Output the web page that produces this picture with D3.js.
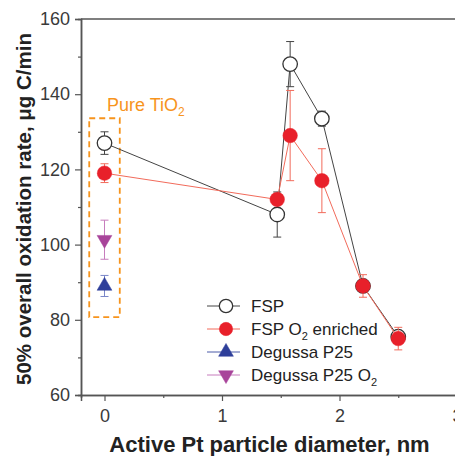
<!DOCTYPE html>
<html>
<head>
<meta charset="utf-8">
<script src="https://cdn.jsdelivr.net/npm/d3@7"></script>
<style>
  body { margin: 0; background: #fff; }
  svg { font-family: "Liberation Sans", Arial, sans-serif; }
</style>
</head>
<body>
<svg width="455" height="456"></svg>
<script>
// data
var fspX   = [0, 1.47, 1.58, 1.85, 2.2, 2.5];
var fspY   = [127, 108, 148, 133.5, 89, 75.5];
var fspErr = [3, 6, 6, 2, 1.5, 1.5];

var o2X   = [0, 1.47, 1.58, 1.85, 2.2, 2.5];
var o2Y   = [119, 112, 129, 117, 89, 75];
var o2Err = [2.5, 1.5, 12, 8.5, 3, 3];

var p25X = [0], p25Y = [89], p25Err = [2.8];
var p25o2X = [0], p25o2Y = [101.3], p25o2Err = [5.2];

var xTicks = [0, 1, 2, 3];
var yTicks = [60, 80, 100, 120, 140, 160];

var svg = d3.select('svg');
var margin = {top: 19, left: 81, bottom: 61};
var height = 456;

var xScale = d3.scaleLinear().domain([-0.2, 3.2]).range([81, 81 + 3.4 * 117.5]);
var yScale = d3.scaleLinear().domain([60, 160]).range([height - margin.bottom, margin.top]);

var axisCol = '#555';

// top frame
svg.append('line')
  .attr('x1', xScale(-0.2)).attr('x2', xScale(3.2))
  .attr('y1', yScale(160)).attr('y2', yScale(160))
  .attr('stroke', axisCol).attr('stroke-width', 1.5);

// axes
var xAxis = d3.axisBottom(xScale).tickValues(xTicks).tickFormat(d3.format('d')).tickSize(6).tickPadding(8);
var xMinor = d3.axisBottom(xScale).tickValues([0.5, 1.5, 2.5]).tickFormat('').tickSize(3);
var yAxis = d3.axisLeft(yScale).tickValues(yTicks).tickSize(6).tickPadding(5);
var yMinor = d3.axisLeft(yScale).tickValues([70, 90, 110, 130, 150]).tickFormat('').tickSize(3);

function styleAxis(g) {
  g.select('.domain').attr('stroke', axisCol).attr('stroke-width', 1.5);
  g.selectAll('.tick line').attr('stroke', axisCol).attr('stroke-width', 1.2);
  g.selectAll('.tick text').attr('fill', '#3a3a3a').style('font-size', '18px')
    .style('font-family', '"Liberation Sans", Arial, sans-serif');
}

svg.append('g').attr('transform', 'translate(0,' + yScale(60) + ')').call(xAxis).call(styleAxis);
svg.append('g').attr('transform', 'translate(0,' + yScale(60) + ')').call(xMinor).call(styleAxis);
svg.append('g').attr('transform', 'translate(' + xScale(-0.2) + ',0)').call(yAxis).call(styleAxis);
svg.append('g').attr('transform', 'translate(' + xScale(-0.2) + ',0)').call(yMinor).call(styleAxis);

// axis titles
svg.append('text')
  .attr('x', 269.5).attr('y', 452)
  .attr('text-anchor', 'middle')
  .style('font-size', '22px').style('font-weight', 'bold').attr('fill', '#222')
  .text('Active Pt particle diameter, nm');

svg.append('text')
  .attr('transform', 'translate(31,' + 209 + ') rotate(-90)')
  .attr('text-anchor', 'middle')
  .style('font-size', '20.5px').style('font-weight', 'bold').attr('fill', '#222')
  .text('50% overall oxidation rate, \u03bcg C/min');

// orange box
var orange = '#f7941d';
svg.append('rect')
  .attr('x', xScale(-0.13)).attr('y', yScale(133.6))
  .attr('width', xScale(0.13) - xScale(-0.13))
  .attr('height', yScale(80.7) - yScale(133.6))
  .attr('fill', 'none').attr('stroke', orange).attr('stroke-width', 1.8)
  .attr('stroke-dasharray', '6,4');

var tio2 = svg.append('text').attr('x', 107).attr('y', 111)
  .attr('fill', orange).style('font-size', '18px').text('Pure TiO');
tio2.append('tspan').attr('dy', 5).style('font-size', '12px').text('2');

// series
function drawSeries(xs, ys, errs, lineCol, markCol, shape, open) {
  var pts = xs.map((x, i) => ({x: x, y: ys[i], e: errs[i]}));
  var g = svg.append('g');
  if (pts.length > 1) {
    g.append('path')
      .datum(pts)
      .attr('fill', 'none').attr('stroke', lineCol).attr('stroke-width', 1)
      .attr('d', d3.line().x(d => xScale(d.x)).y(d => yScale(d.y)));
  }
  var eb = g.selectAll('g.err').data(pts).enter().append('g')
    .attr('stroke', lineCol).attr('stroke-width', 1);
  eb.append('line')
    .attr('x1', d => xScale(d.x)).attr('x2', d => xScale(d.x))
    .attr('y1', d => yScale(d.y - d.e)).attr('y2', d => yScale(d.y + d.e));
  eb.append('line')
    .attr('x1', d => xScale(d.x) - 4).attr('x2', d => xScale(d.x) + 4)
    .attr('y1', d => yScale(d.y - d.e)).attr('y2', d => yScale(d.y - d.e));
  eb.append('line')
    .attr('x1', d => xScale(d.x) - 4).attr('x2', d => xScale(d.x) + 4)
    .attr('y1', d => yScale(d.y + d.e)).attr('y2', d => yScale(d.y + d.e));
  g.selectAll('path.mk').data(pts).enter().append('path')
    .attr('class', 'mk')
    .attr('transform', d => 'translate(' + xScale(d.x) + ',' + yScale(d.y) + ')' + (shape === 'down' ? ' rotate(180)' : ''))
    .attr('d', d3.symbol().type(shape === 'circle' ? d3.symbolCircle : d3.symbolTriangle).size(shape === 'circle' ? 165 : 95)())
    .attr('fill', open ? '#fff' : markCol)
    .attr('stroke', open ? '#333' : markCol)
    .attr('stroke-width', open ? 1.3 : 0.5);
}

drawSeries(fspX, fspY, fspErr, '#444', '#333', 'circle', true);
drawSeries(o2X, o2Y, o2Err, '#f26b5b', '#e8202a', 'circle', false);
drawSeries(p25X, p25Y, p25Err, '#7a86c8', '#2e3f9a', 'up', false);
drawSeries(p25o2X, p25o2Y, p25o2Err, '#c77dbd', '#a8449a', 'down', false);

// legend
var legend = [
  {label: 'FSP', sub: '', rest: '', line: '#444', mark: '#333', shape: 'circle', open: true},
  {label: 'FSP O', sub: '2', rest: ' enriched', line: '#f26b5b', mark: '#e8202a', shape: 'circle', open: false},
  {label: 'Degussa P25', sub: '', rest: '', line: '#4a5aa8', mark: '#2e3f9a', shape: 'up', open: false},
  {label: 'Degussa P25 O', sub: '2', rest: '', line: '#c77dbd', mark: '#a8449a', shape: 'down', open: false}
];
var lg = svg.append('g');
legend.forEach(function(d, i) {
  var y = 306 + i * 23;
  lg.append('line').attr('x1', 207).attr('x2', 240).attr('y1', y).attr('y2', y)
    .attr('stroke', d.line).attr('stroke-width', 1);
  lg.append('path')
    .attr('transform', 'translate(226,' + y + ')' + (d.shape === 'down' ? ' rotate(180)' : ''))
    .attr('d', d3.symbol().type(d.shape === 'circle' ? d3.symbolCircle : d3.symbolTriangle).size(d.shape === 'circle' ? 140 : 95)())
    .attr('fill', d.open ? '#fff' : d.mark)
    .attr('stroke', d.open ? '#333' : d.mark)
    .attr('stroke-width', d.open ? 1.3 : 0.5);
  var t = lg.append('text').attr('x', 251).attr('y', y + 6)
    .attr('fill', '#222').style('font-size', '17px').text(d.label);
  if (d.sub) {
    t.append('tspan').attr('dy', 5).style('font-size', '11px').text(d.sub);
    if (d.rest) t.append('tspan').attr('dy', -5).text(d.rest);
  }
});
</script>
</body>
</html>
